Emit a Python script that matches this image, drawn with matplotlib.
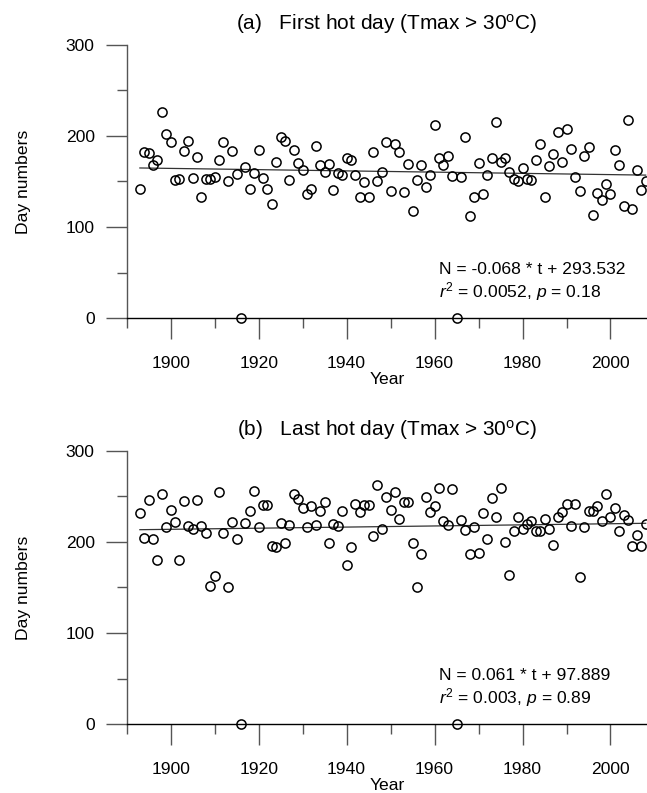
import matplotlib
matplotlib.use("Agg")
import matplotlib.pyplot as plt
import numpy as np
from matplotlib.ticker import MultipleLocator

plt.rcParams["font.family"] = ["Liberation Sans", "DejaVu Sans"]
plt.rcParams["mathtext.fontset"] = "custom"
plt.rcParams["mathtext.rm"] = "Liberation Sans"
plt.rcParams["mathtext.it"] = "Liberation Sans:italic"

# ---- data ----
years = list(range(1893, 2009))

first_hot = [
    142, 182, 181.6, 167.8, 174, 226, 202, 193.6, 151.3, 152.4,   # 1893-1902
    183, 194.7, 153.8, 176.9, 132.7, 152.4, 152.4, 154.6, 174, 193,  # 1903-1912
    150.5, 183, 157.9, 0, 166, 142, 159, 184, 153.5, 142,          # 1913-1922
    125, 171.4, 198.8, 194.4, 151.6, 184, 170, 162.3, 136.3, 141.4,  # 1923-1932
    189, 168, 160.7, 169.2, 140.7, 159, 157.1, 175.4, 174, 156.8,  # 1933-1942
    133.4, 149.8, 132.6, 182.7, 150.5, 160.4, 193, 140, 191, 182.7,  # 1943-1952
    138.8, 168.9, 118, 151.6, 167.8, 144, 156.8, 212.3, 176.1, 168.5,  # 1953-1962
    178.3, 156, 0, 155, 199, 112, 133, 170.3, 136, 156.8,          # 1963-1972
    176.1, 214.9, 171, 176.1, 160.7, 152.4, 150.5, 164.8, 152.4, 151.3,  # 1973-1982
    174, 191, 133, 166.6, 180, 204, 171.4, 208, 185.6, 155,        # 1983-1992
    139.6, 178, 187.8, 113, 137, 130, 146.9, 136.3, 184.9, 167.8,  # 1993-2002
    123, 217, 120, 163, 140.7, 150,                                # 2003-2008
]

last_hot = [
    232, 204, 245.6, 202.9, 180, 252, 216.3, 234.6, 221.8, 180,    # 1893-1902
    244.8, 217.4, 214.5, 245.6, 217.4, 209.8, 152, 162.6, 254.7, 209.4,  # 1903-1912
    150, 221.5, 202.9, 0, 220.4, 233.6, 255.8, 216.7, 240.8, 240.8,  # 1913-1922
    195.2, 194, 221, 199, 218.5, 252.2, 246.7, 237.5, 216.7, 239.4,  # 1923-1932
    218.5, 233.6, 243.8, 199, 219.3, 217.4, 233.9, 175, 194.7, 241.2,  # 1933-1942
    232.5, 240.5, 240.5, 206.8, 262.4, 214.1, 248.9, 235, 254.7, 224.8,  # 1943-1952
    244.1, 244.1, 198.5, 151, 186.7, 248.9, 232.5, 239.7, 258.8, 223.2,  # 1953-1962
    218.2, 257.7, 0, 224, 213, 186.7, 216.7, 188.2, 231.4, 202.9,  # 1963-1972
    247.8, 227.6, 259.1, 200.2, 164, 211.6, 227.3, 214.5, 219.3, 222.9,  # 1973-1982
    212, 212, 225.1, 214.5, 196.3, 227, 232.5, 241.2, 217.8, 241.2,  # 1983-1992
    161.2, 216, 233.9, 234.2, 239.4, 223.2, 252.2, 227, 236.8, 212.3,  # 1993-2002
    229.2, 224, 195.2, 207.9, 195.5, 219.6,                        # 2003-2008
]

# regression (slope, intercept) and stats as printed on the chart
fits = [(-0.068, 293.532), (0.061, 97.889)]
titles = ["(a)   First hot day (Tmax > 30$^{\\mathregular{o}}$C)",
          "(b)   Last hot day (Tmax > 30$^{\\mathregular{o}}$C)"]
eq_text = ["N = -0.068 * t + 293.532", "N = 0.061 * t + 97.889"]
stat_text = ["$r^2$ = 0.0052, $p$ = 0.18", "$r^2$ = 0.003, $p$ = 0.89"]
series = [first_hot, last_hot]

fig = plt.figure(figsize=(6.47, 7.93), dpi=100)
boxes = [[0.1958, 0.5986, 0.8042, 0.3451],
         [0.1958, 0.0866, 0.8042, 0.3451]]

FS = 12.6
grey = "#555555"

for i in range(2):
    ax = fig.add_axes(boxes[i])
    yr = np.array(years)
    ax.plot(yr, series[i], "o", ms=6.6, mfc="none", mec="black", mew=1.1,
            clip_on=False, zorder=3)
    m, b = fits[i]
    ax.plot(yr, m * yr + b, color="#333333", lw=0.9, zorder=2)

    ax.set_xlim(1890, 2008.3)
    ax.set_ylim(0, 300)
    ax.spines["top"].set_visible(False)
    ax.spines["right"].set_visible(False)
    ax.spines["left"].set_color(grey)
    ax.spines["left"].set_linewidth(1.0)
    ax.spines["bottom"].set_color("black")
    ax.spines["bottom"].set_linewidth(1.0)

    ax.xaxis.set_major_locator(MultipleLocator(20))
    ax.xaxis.set_minor_locator(MultipleLocator(10))
    ax.yaxis.set_major_locator(MultipleLocator(100))
    ax.yaxis.set_minor_locator(MultipleLocator(50))
    ax.tick_params(which="major", length=15, width=1.0, color=grey,
                   labelsize=FS, direction="out")
    ax.tick_params(which="minor", length=7.5, width=1.0, color=grey,
                   direction="out")
    ax.tick_params(axis="x", which="major", pad=12)
    ax.tick_params(axis="y", which="major", pad=8)

    ax.set_xlabel("Year", fontsize=FS, labelpad=1)
    ax.set_ylabel("Day numbers", fontsize=FS, labelpad=25)
    ax.set_title(titles[i], fontsize=15, pad=11)

    ax.text(1961, 53, eq_text[i], fontsize=FS, ha="left", va="center")
    ax.text(1961, 29, stat_text[i], fontsize=FS, ha="left", va="center")

fig.savefig("out.png", dpi=100)
